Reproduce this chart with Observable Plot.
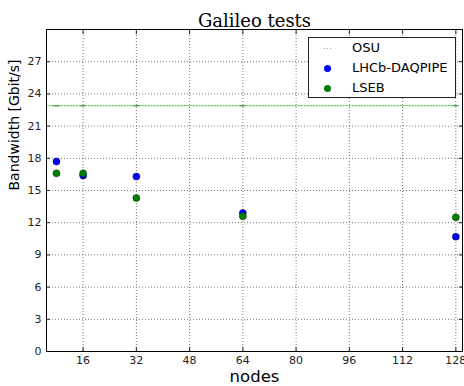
<!DOCTYPE html>
<html>
<head>
<meta charset="utf-8">
<script src="https://cdn.jsdelivr.net/npm/d3@7"></script>
<script src="https://cdn.jsdelivr.net/npm/@observablehq/plot@0.6"></script>
<style>
body { margin: 0; background: #fff; }
#chart { position: relative; width: 464px; height: 386px; }
#legend { position: absolute; left: 308px; top: 37px; width: 148px; height: 61px; border: 1px solid #222; background: #fff; font-family: "DejaVu Sans", sans-serif; font-size: 13px; box-sizing: border-box; }
#legend .row { position: absolute; left: 0; height: 20px; line-height: 20px; }
#legend .mk { position: absolute; left: 15px; top: 7px; width: 7px; height: 7px; border-radius: 50%; }
#legend .lb { position: absolute; left: 43px; white-space: nowrap; color: #000; }
</style>
</head>
<body>
<div id="chart"></div>
<script>
const nodes = [8, 16, 32, 64, 128];
const osuNodes = [4, 8, 16, 32, 64, 128];
const osu = [22.9, 22.9, 22.9, 22.9, 22.9, 22.9];
const daqpipe = [17.7, 16.4, 16.3, 12.9, 10.7];
const lseb = [16.6, 16.6, 14.3, 12.6, 12.5];
const xTicks = [16, 32, 48, 64, 80, 96, 112, 128];
const yTicks = [0, 3, 6, 9, 12, 15, 18, 21, 24, 27];
const seriesNames = ["OSU", "LHCb-DAQPIPE", "LSEB"];
const seriesColors = ["#999999", "#0000ff", "#007f00"];

const osuData = osuNodes.map((n, i) => ({n, v: osu[i]}));
const daqData = nodes.map((n, i) => ({n, v: daqpipe[i]}));
const lsebData = nodes.map((n, i) => ({n, v: lseb[i]}));

const hline = { draw(ctx, size) { const r = Math.sqrt(size / Math.PI); ctx.moveTo(-r, 0); ctx.lineTo(r, 0); } };

const plot = Plot.plot({
  width: 464, height: 386,
  marginLeft: 46, marginRight: 2, marginTop: 29, marginBottom: 35,
  style: { fontFamily: "DejaVu Sans, sans-serif", fontSize: "11px", color: "#222" },
  x: { domain: [5, 130] },
  y: { domain: [0, 30] },
  marks: [
    Plot.gridX(xTicks, { stroke: "#777", strokeOpacity: 1, strokeDasharray: "1,2" }),
    Plot.gridY(yTicks, { stroke: "#777", strokeOpacity: 1, strokeDasharray: "1,2" }),
    Plot.lineY(osuData, { x: "n", y: "v", stroke: "#4cc24c", strokeWidth: 1.2, strokeDasharray: "1,2", clip: true }),
    Plot.dot(osuData.filter(d => d.n >= 5), { x: "n", y: "v", symbol: hline, r: 2.8, stroke: "#3a9a3a", strokeWidth: 1.2 }),
    Plot.dot(daqData, { x: "n", y: "v", r: 3.5, fill: seriesColors[1], stroke: "#003", strokeWidth: 0.5 }),
    Plot.dot(lsebData, { x: "n", y: "v", r: 3.5, fill: seriesColors[2], stroke: "#030", strokeWidth: 0.5 }),
    Plot.axisX(xTicks, { anchor: "bottom", tickSize: -4, tickPadding: 9, label: null, fontSize: 11 }),
    Plot.axisX(xTicks, { anchor: "top", tickSize: -4, tickFormat: () => "", label: null }),
    Plot.axisY(yTicks, { anchor: "left", tickSize: -4, tickPadding: 9, label: null, fontSize: 11 }),
    Plot.axisY(yTicks, { anchor: "right", tickSize: -4, tickFormat: () => "", label: null }),
    Plot.frame({ stroke: "#000", strokeWidth: 1 }),
    Plot.text(["Galileo tests"], { frameAnchor: "top", dy: -15, fontFamily: "DejaVu Serif, serif", fontSize: 18, fill: "#000" }),
    Plot.text(["nodes"], { frameAnchor: "bottom", dy: 30, fontSize: 16.5, fill: "#000" }),
    Plot.text(["Bandwidth [Gbit/s]"], { frameAnchor: "left", dx: -32, rotate: -90, fontSize: 14, fill: "#000" })
  ]
});
const chart = document.getElementById("chart");
chart.appendChild(plot);

const legend = document.createElement("div");
legend.id = "legend";
seriesNames.forEach((name, i) => {
  const row = document.createElement("div");
  row.className = "row";
  row.style.top = (i * 20) + "px";
  row.style.width = "100%";
  const mk = document.createElement("div");
  mk.className = "mk";
  if (i === 0) {
    mk.style.borderRadius = "0";
    mk.style.height = "1px";
    mk.style.top = "10px";
    mk.style.width = "8px";
    mk.style.background = "repeating-linear-gradient(to right, #aaa 0 1px, transparent 1px 3px)";
  } else {
    mk.style.background = seriesColors[i];
  }
  const lb = document.createElement("div");
  lb.className = "lb";
  lb.textContent = name;
  row.appendChild(mk);
  row.appendChild(lb);
  legend.appendChild(row);
});
chart.appendChild(legend);
</script>
</body>
</html>
